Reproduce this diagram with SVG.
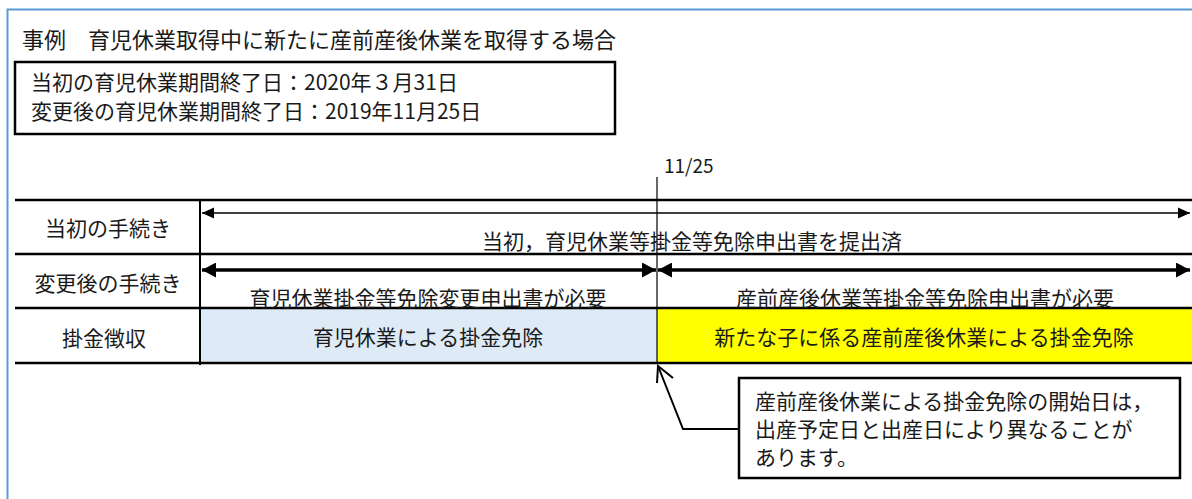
<svg xmlns="http://www.w3.org/2000/svg" width="1192" height="499" viewBox="0 0 1192 499">
<style>
text{font-family:"Noto Sans CJK JP","Noto Sans",sans-serif;fill:#1a1a1a;font-size:21px}
.c{text-anchor:middle}
.hl{stroke:#000;stroke-width:2.5;fill:none}
.thin{stroke:#000;stroke-width:1.3;fill:none}
.thick{stroke:#000;stroke-width:3.5;fill:none}
</style>
<defs>
<marker id="ah" viewBox="0 0 12 12" refX="12" refY="6" markerUnits="userSpaceOnUse" markerWidth="12" markerHeight="12" orient="auto-start-reverse"><path d="M0,0.5 L12,6 L0,11.5 Z" fill="#000"/></marker>
<marker id="ahb" viewBox="0 0 14 15" refX="14" refY="7.5" markerUnits="userSpaceOnUse" markerWidth="14" markerHeight="15" orient="auto-start-reverse"><path d="M0,0 L14,7.5 L0,15 Z" fill="#000"/></marker>
</defs>
<rect x="7.5" y="9.5" width="1200" height="500" fill="#fff" stroke="#5B9BD5" stroke-width="2"/>
<g id="title"><text x="22" y="48" style="font-size:22px">事例　育児休業取得中に新たに産前産後休業を取得する場合</text></g>
<g id="infobox">
<rect x="15" y="62" width="600" height="72" fill="#fff" stroke="#000" stroke-width="2.5"/>
<text x="31" y="90">当初の育児休業期間終了日：2020年３月31日</text>
<text x="31" y="119">変更後の育児休業期間終了日：2019年11月25日</text>
</g>
<g id="date"><text x="664" y="173" style="font-size:19px">11/25</text></g>
<g id="cells">
<rect x="200" y="308" width="457" height="55" fill="#DEEBF7"/>
<rect x="657" y="308" width="540" height="55" fill="#FFFF00"/>
</g>
<g id="grid">
<line class="hl" x1="15" y1="200" x2="1192" y2="200"/>
<line class="hl" x1="15" y1="254" x2="1192" y2="254"/>
<line class="hl" x1="15" y1="308" x2="1192" y2="308"/>
<line class="hl" x1="15" y1="363" x2="1192" y2="363"/>
<line x1="200" y1="200" x2="200" y2="365" stroke="#000" stroke-width="2"/>
<line x1="657" y1="177" x2="657" y2="363" stroke="#000" stroke-width="1.2"/>
</g>
<g id="labels">
<text class="c" x="108" y="236">当初の手続き</text>
<text class="c" x="108" y="291">変更後の手続き</text>
<text class="c" x="104" y="346">掛金徴収</text>
</g>
<g id="connectors">
<line class="thin" x1="202" y1="213" x2="1190" y2="213" marker-start="url(#ah)" marker-end="url(#ah)"/>
<line class="thick" x1="202" y1="270" x2="656" y2="270" marker-start="url(#ahb)" marker-end="url(#ahb)"/>
<line class="thick" x1="658" y1="270" x2="1190" y2="270" marker-start="url(#ahb)" marker-end="url(#ahb)"/>
<polyline points="739,429 683,429 658,366" fill="none" stroke="#000" stroke-width="2"/>
<polyline points="673,378 658,366 657,383" fill="none" stroke="#000" stroke-width="2"/>
</g>
<g id="row1"><text class="c" x="692" y="249">当初，育児休業等掛金等免除申出書を提出済</text></g>
<g id="row2-left"><text class="c" x="428" y="306">育児休業掛金等免除変更申出書が必要</text></g>
<g id="row2-right"><text class="c" x="925" y="306">産前産後休業等掛金等免除申出書が必要</text></g>
<g id="row3-left"><text class="c" x="428" y="345">育児休業による掛金免除</text></g>
<g id="row3-right"><text class="c" x="924" y="345">新たな子に係る産前産後休業による掛金免除</text></g>
<g id="callout">
<rect x="739" y="378" width="441" height="100" fill="#fff" stroke="#000" stroke-width="2.5"/>
<text x="755" y="409">産前産後休業による掛金免除の開始日は，</text>
<text x="755" y="437">出産予定日と出産日により異なることが</text>
<text x="755" y="465">あります。</text>
</g>
</svg>
